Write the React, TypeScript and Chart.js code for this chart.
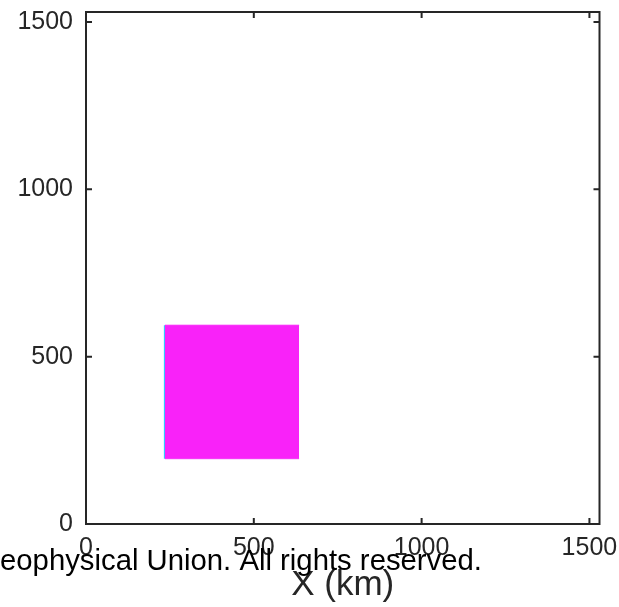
import React, { useEffect, useRef } from "react";
import { Chart, registerables } from "chart.js";

Chart.register(...registerables);

// Axis extents and tick labels (km)
const axisMin = 0;
const axisMax = 1530;
const tickValues = [0, 500, 1000, 1500];

// Square region (km)
const squareX = [235, 635];
const squareYTop = [594, 594];
const squareYBottom = [195, 195];
const edgeX = [235, 235];
const edgeY = [195, 594];

const xLabel = "X (km)";
const overlayText = "eophysical Union. All rights reserved.";

const frameColor = "#262626";

const framePlugin = {
  id: "frameAndTicks",
  afterDraw(chart: any) {
    const { ctx, chartArea, scales } = chart;
    const { left, right, top, bottom } = chartArea;
    ctx.save();
    ctx.strokeStyle = frameColor;
    ctx.lineWidth = 2;
    ctx.strokeRect(left, top, right - left, bottom - top);
    const tl = 6;
    ctx.beginPath();
    for (const v of tickValues) {
      const px = scales.x.getPixelForValue(v);
      ctx.moveTo(px, bottom);
      ctx.lineTo(px, bottom - tl);
      ctx.moveTo(px, top);
      ctx.lineTo(px, top + tl);
      const py = scales.y.getPixelForValue(v);
      ctx.moveTo(left, py);
      ctx.lineTo(left + tl, py);
      ctx.moveTo(right, py);
      ctx.lineTo(right - tl, py);
    }
    ctx.stroke();
    // overlay caption text
    ctx.fillStyle = "#000000";
    ctx.font = '29.3px "Liberation Sans", Arial, sans-serif';
    ctx.textBaseline = "alphabetic";
    ctx.textAlign = "left";
    ctx.fillText(overlayText, 0, 570);
    ctx.restore();
  },
};

export default function App() {
  const ref = useRef<HTMLCanvasElement | null>(null);

  useEffect(() => {
    document.body.style.margin = "0";
    const canvas = ref.current;
    if (!canvas) return;
    const fillColor = "#f922f9";
    const chart = new Chart(canvas, {
      type: "line",
      data: {
        datasets: [
          {
            data: squareX.map((x, i) => ({ x, y: squareYTop[i] })),
            borderColor: fillColor,
            borderWidth: 1,
            backgroundColor: fillColor,
            pointRadius: 0,
            fill: "+1",
          },
          {
            data: squareX.map((x, i) => ({ x, y: squareYBottom[i] })),
            borderColor: "#f060f8",
            borderWidth: 1,
            pointRadius: 0,
            fill: false,
          },
          {
            data: edgeX.map((x, i) => ({ x, y: edgeY[i] })),
            borderColor: "#33ccff",
            borderWidth: 2,
            pointRadius: 0,
            fill: false,
          },
        ],
      },
      options: {
        animation: false,
        responsive: false,
        maintainAspectRatio: false,
        layout: { padding: { left: 0, top: 12, right: 19.5, bottom: 0 } },
        plugins: {
          legend: { display: false },
          tooltip: { enabled: false },
        },
        scales: {
          x: {
            type: "linear",
            min: axisMin,
            max: axisMax,
            grid: { display: false, drawTicks: false },
            border: { display: false },
            afterBuildTicks: (scale: any) => {
              scale.ticks = tickValues.map((v) => ({ value: v }));
            },
            afterFit: (scale: any) => {
              scale.height = 83;
              scale.paddingLeft = 0;
              scale.paddingRight = 0;
            },
            ticks: {
              autoSkip: false,
              maxRotation: 0,
              padding: 9,
              color: frameColor,
              font: { family: '"Liberation Sans", Arial, sans-serif', size: 25 },
              callback: (v: any) => String(v),
            },
            title: {
              display: true,
              text: xLabel,
              color: frameColor,
              font: { family: '"Liberation Sans", Arial, sans-serif', size: 35 },
              padding: { top: 0, bottom: 1 },
            },
          },
          y: {
            type: "linear",
            min: axisMin,
            max: axisMax,
            grid: { display: false, drawTicks: false },
            border: { display: false },
            afterBuildTicks: (scale: any) => {
              scale.ticks = tickValues.map((v) => ({ value: v }));
            },
            afterFit: (scale: any) => {
              scale.width = 86;
              scale.paddingTop = 0;
              scale.paddingBottom = 0;
            },
            ticks: {
              autoSkip: false,
              padding: 13,
              color: frameColor,
              font: { family: '"Liberation Sans", Arial, sans-serif', size: 25 },
              callback: (v: any) => String(v),
            },
          },
        },
      },
      plugins: [framePlugin],
    });
    return () => chart.destroy();
  }, []);

  return <canvas ref={ref} width={619} height={607} style={{ display: "block" }} />;
}
